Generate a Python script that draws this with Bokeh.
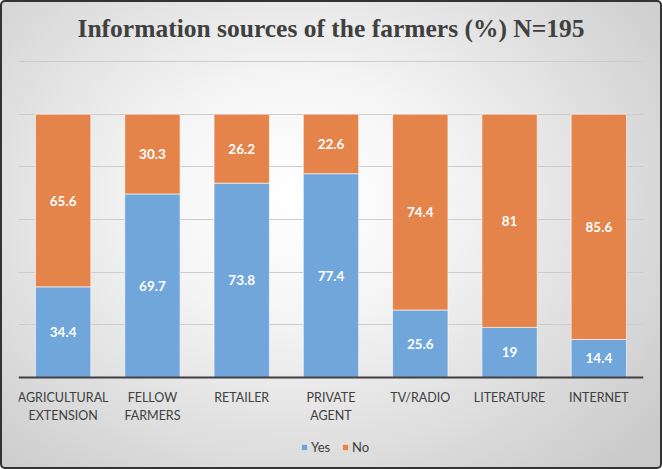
from bokeh.plotting import figure
from bokeh.models import ColumnDataSource, FactorRange, FixedTicker, Range1d, Legend, Label
from bokeh.core.properties import value
from bokeh.embed import file_html
from bokeh.resources import INLINE

categories = ["AGRICULTURAL\nEXTENSION", "FELLOW\nFARMERS", "RETAILER", "PRIVATE\nAGENT",
              "TV/RADIO", "LITERATURE", "INTERNET"]
yes = [34.4, 69.7, 73.8, 77.4, 25.6, 19, 14.4]
no = [65.6, 30.3, 26.2, 22.6, 74.4, 81, 85.6]
series = ["Yes", "No"]
grid_ticks = [20, 40, 60, 80, 100, 120]
title = "Information sources of the farmers (%) N=195"

BLUE = "#70a6da"
ORANGE = "#e4844b"
TXT = "#404040"
LABEL_FONT = "Lato"

src = ColumnDataSource(dict(
    cat=categories,
    Yes=yes,
    No=no,
    yes_pos=[v / 2 for v in yes],
    no_pos=[a + b / 2 for a, b in zip(yes, no)],
    yes_txt=[f"{v:g}" for v in yes],
    no_txt=[f"{v:g}" for v in no],
))

# frame spans the whole height so title, category labels and legend live inside it
Y_BOTTOM, Y_TOP = -35, 143.2
p = figure(x_range=FactorRange(*categories, range_padding=0), y_range=Range1d(Y_BOTTOM, Y_TOP),
           width=662, height=469, output_backend="svg", toolbar_location=None, title=None,
           min_border_left=18, min_border_right=19, min_border_top=0, min_border_bottom=0)

p.styles = {
    "background": "radial-gradient(ellipse 70% 80% at 45% 42%, #ffffff 0%, #f6f6f6 30%, #e0e0e0 65%, #cacaca 100%)",
    "box-shadow": "inset 0 0 0 2px #333333",
    "border-radius": "5px",
}
p.background_fill_alpha = 0
p.border_fill_alpha = 0
p.outline_line_color = None

p.add_layout(Label(x=len(categories) / 2, y=Y_TOP - 10.6, text=title, text_align="center",
                   text_baseline="middle", text_font="Liberation Serif", text_font_size="25.5px",
                   text_font_style="bold", text_color=TXT))

rs = p.vbar_stack(series, x="cat", width=0.62, color=[BLUE, ORANGE], source=src,
                  line_color="white", line_alpha=0.6, line_width=1)

p.yaxis.visible = False
p.xgrid.visible = False
p.ygrid.ticker = FixedTicker(ticks=grid_ticks)
p.ygrid.grid_line_color = "#cccccc"
p.ygrid.grid_line_width = 1

ax = p.xaxis[0]
ax.fixed_location = 0
ax.axis_line_color = TXT
ax.axis_line_width = 2
ax.major_tick_line_color = None
ax.minor_tick_line_color = None
ax.major_label_text_font = LABEL_FONT
ax.major_label_text_font_size = "12.5px"
ax.major_label_text_color = TXT
ax.major_label_standoff = 7

for col, txt in (("yes_pos", "yes_txt"), ("no_pos", "no_txt")):
    p.text(x="cat", y=col, text=txt, source=src, text_align="center",
           text_baseline="middle", text_color="white", text_font=value(LABEL_FONT),
           text_font_size="13.5px", text_font_style="bold")

legend = Legend(items=[(s, [r]) for s, r in zip(series, rs)], orientation="horizontal",
                location=(282, 14), background_fill_alpha=0, border_line_color=None,
                label_text_font=LABEL_FONT, label_text_font_size="13px", label_text_color=TXT,
                glyph_width=8, glyph_height=8, label_standoff=3, spacing=10, padding=0, margin=0)
p.add_layout(legend, "center")

open("out.html", "w").write(file_html(p, INLINE))
